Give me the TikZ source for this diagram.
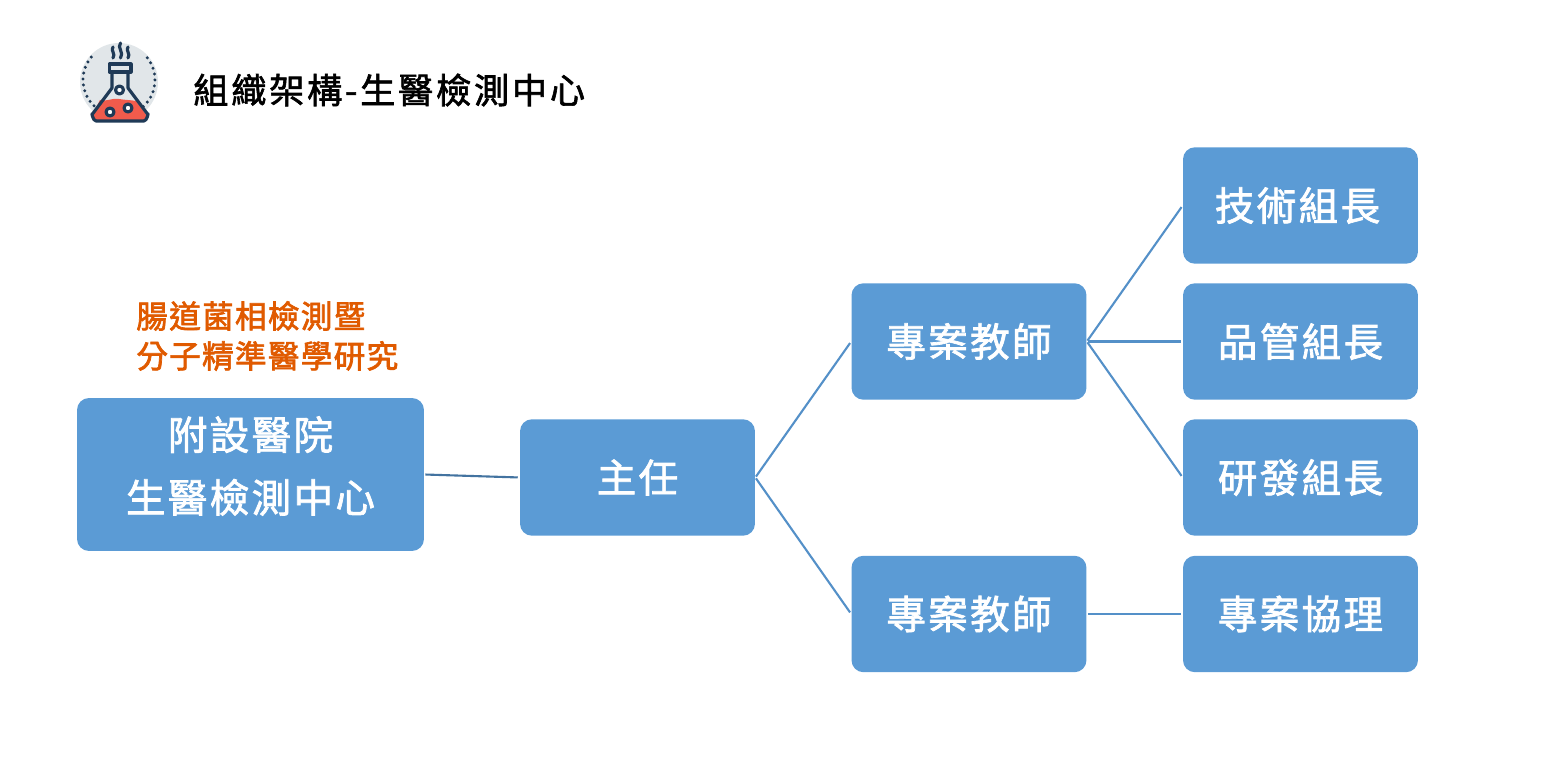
\documentclass[tikz,border=0pt]{standalone}
\usepackage{fontspec}
\usepackage{xcolor}
\newfontfamily\cjkbox[LetterSpace=6,FakeBold=1.8]{Noto Sans CJK TC}
\newfontfamily\cjktitle[LetterSpace=8,FakeBold=1.8]{Noto Sans CJK TC}
\newfontfamily\cjknote[LetterSpace=4,FakeBold=2.2]{Noto Sans CJK TC}
\definecolor{boxblue}{HTML}{5B9BD5}
\definecolor{lineblue}{HTML}{5490C8}
\definecolor{noteorange}{HTML}{E05A00}
\definecolor{flasknavy}{HTML}{1F3A57}
\definecolor{flaskred}{HTML}{F15B4C}
\definecolor{flaskgrey}{HTML}{E1E6E9}
\tikzset{
    orgbox/.style={fill=boxblue, rounded corners=0.24cm, minimum width=4.7cm,
        minimum height=2.33cm, inner sep=0pt, text=white, font=\cjkbox\fontsize{22.5}{26}\selectfont},
    orgline/.style={draw=lineblue, line width=1.2pt, shorten <=0.6pt, shorten >=1.1pt},
    flaskline/.style={draw=flasknavy, line width=1.8pt, line join=round, line cap=round},
    flaskdots/.style={flaskline, line width=1.9pt, dash pattern=on 0pt off 3.4pt},
}

\begin{document}
\begin{tikzpicture}[x=0.02cm,y=-0.02cm]
    \useasboundingbox (0,0) rectangle (1551,759);

    %icon disc and dotted ring
    \fill[flaskgrey] (119,82) circle (39);
    \draw[flaskdots] (119,80) ++(57:36) arc[start angle=57, end angle=-41, radius=36];
    \draw[flaskdots] (119,80) ++(115:36) arc[start angle=115, end angle=224, radius=36];

    %icon liquid
    \fill[flaskred] (100,100) to[out=-15,in=170] (119,99) to[out=-10,in=170] (136,101)
        -- (147,116) -- (146,121) -- (93,121) -- (92,116) -- cycle;

    %icon flask
    \draw[flaskline] (112,72) -- (112,88) -- (92.5,114) to[out=120,in=180] (96,121) -- (144,121)
        to[out=0,in=60] (147.5,114) -- (128,88) -- (128,72);
    \draw[flaskline] (109.5,64) rectangle (131,72);
    \draw[flaskline, fill=white] (119.5,90) circle (4);
    \draw[flaskline, fill=white] (110,112) circle (4);
    \draw[flaskline, fill=white] (128,108) circle (4);

    %icon steam
    \draw[flaskline] (113,47) to[out=-120,in=120] (113,52) to[out=-60,in=60] (113,58);
    \draw[flaskline] (120.5,43) to[out=-120,in=120] (120.5,50) to[out=-60,in=60] (120.5,58);
    \draw[flaskline] (128,47) to[out=-120,in=120] (128,52) to[out=-60,in=60] (128,58);

    %title and note
    \node[anchor=west, inner sep=0pt, font=\cjktitle\fontsize{20}{24}\selectfont] (title) at (193,90)
        {組織架構-生醫檢測中心};
    \node[anchor=west, inner sep=0pt, align=left, text=noteorange, font=\cjknote\fontsize{18}{22.7}\selectfont] (note) at (136,336)
        {腸道菌相檢測暨\\分子精準醫學研究};

    %boxes
    \node[orgbox, minimum width=6.94cm, minimum height=3.06cm] (hospital) at (250.5,474.5) {};
    \node[text=white, align=center, inner sep=0pt, font=\cjkbox\fontsize{22.5}{35.7}\selectfont] (hospitaltext) at (250.5,466)
        {附設醫院\\生醫檢測中心};
    \node[orgbox] (director) at (637.5,477.5) {主任};
    \node[orgbox] (teachera) at (969,341.5) {專案教師};
    \node[orgbox] (teacherb) at (969,614) {專案教師};
    \node[orgbox] (tech) at (1300.5,205.5) {技術組長\kern3.4pt};
    \node[orgbox] (quality) at (1300.5,341.5) {品管組長};
    \node[orgbox] (research) at (1300.5,477.5) {研發組長};
    \node[orgbox] (assistant) at (1300.5,614) {專案協理};

    %connectors
    \draw[orgline, draw=lineblue!80!black] (hospital.east) -- (director.west);
    \draw[orgline] (director.east) -- (teachera.west);
    \draw[orgline] (director.east) -- (teacherb.west);
    \draw[orgline] (teachera.east) -- (tech.west);
    \draw[orgline] (teachera.east) -- (quality.west);
    \draw[orgline] (teachera.east) -- (research.west);
    \draw[orgline] (teacherb.east) -- (assistant.west);
\end{tikzpicture}
\end{document}
